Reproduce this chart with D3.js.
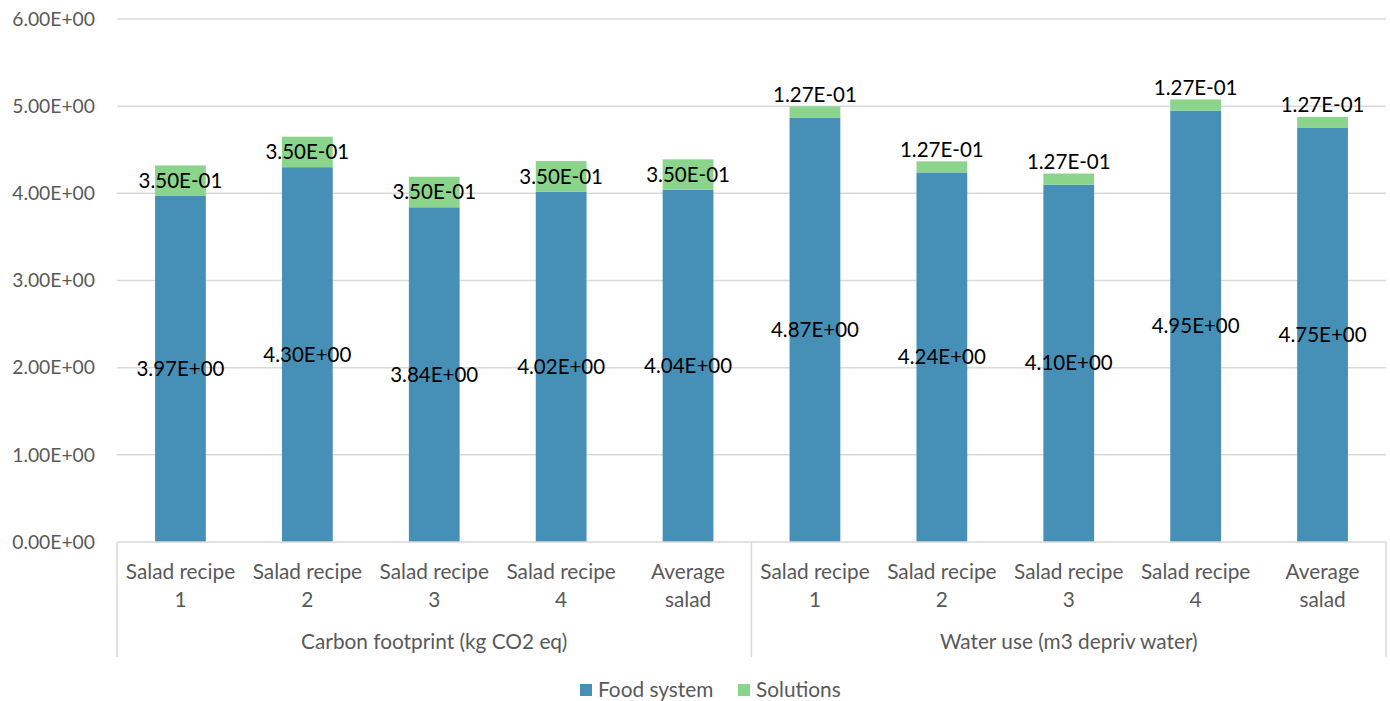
<!DOCTYPE html>
<html>
<head>
<meta charset="utf-8">
<script src="https://cdn.jsdelivr.net/npm/d3@7"></script>
<style>
body{margin:0;background:#fff;}
text{font-family:"Lato","Open Sans",sans-serif;}
</style>
</head>
<body>
<svg id="chart" width="1390" height="701"></svg>
<script>
const groups = ["Carbon footprint (kg CO2 eq)", "Water use (m3 depriv water)"];
const categories = ["Salad recipe\n1","Salad recipe\n2","Salad recipe\n3","Salad recipe\n4","Average\nsalad"];
const foodSystem = [3.97, 4.30, 3.84, 4.02, 4.04, 4.87, 4.24, 4.10, 4.95, 4.75];
const solutions = [0.35, 0.35, 0.35, 0.35, 0.35, 0.127, 0.127, 0.127, 0.127, 0.127];
const yTicks = [0,1,2,3,4,5,6];
const seriesNames = ["Food system","Solutions"];
const colors = ["#4690B8","#8BD48B"];

const svg = d3.select("#chart");
const pLeft = 117, pRight = 1386, pTop = 19, pBottom = 542;
const keys = d3.range(foodSystem.length);
const x = d3.scaleBand().domain(keys).range([pLeft,pRight]).paddingInner(0.6).paddingOuter(0.3);
const y = d3.scaleLinear().domain([0,6]).range([pBottom,pTop]);
const fmt = v => {
  const s = v.toExponential(2);
  const m = s.split("e");
  const exp = parseInt(m[1],10);
  const sign = exp < 0 ? "-" : "+";
  return m[0] + "E" + sign + String(Math.abs(exp)).padStart(2,"0");
};

// gridlines
svg.append("g").selectAll("line").data(yTicks.filter(d=>d>0)).join("line")
  .attr("x1",pLeft).attr("x2",pRight).attr("y1",d=>y(d)).attr("y2",d=>y(d))
  .attr("stroke","#d9d9d9").attr("stroke-width",1.5);
// y labels
svg.append("g").selectAll("text").data(yTicks).join("text")
  .attr("x",95).attr("y",d=>y(d)).attr("dy","0.35em").attr("text-anchor","end")
  .attr("fill","#595959").attr("font-size",19.3).text(d=>fmt(d));

// bars
const stack = keys.map(i=>({i, f:foodSystem[i], s:solutions[i]}));
const g = svg.append("g");
g.selectAll("rect.f").data(stack).join("rect").attr("class","f")
  .attr("x",d=>x(d.i)).attr("width",x.bandwidth())
  .attr("y",d=>y(d.f)).attr("height",d=>y(0)-y(d.f)).attr("fill",colors[0]);
g.selectAll("rect.s").data(stack).join("rect").attr("class","s")
  .attr("x",d=>x(d.i)).attr("width",x.bandwidth())
  .attr("y",d=>y(d.f+d.s)).attr("height",d=>y(d.f)-y(d.f+d.s)).attr("fill",colors[1]);
// labels
g.selectAll("text.f").data(stack).join("text").attr("class","f")
  .attr("x",d=>x(d.i)+x.bandwidth()/2).attr("y",d=>y(d.f/2)).attr("dy","0.35em")
  .attr("text-anchor","middle").attr("font-size",20.5).attr("fill","#000").text(d=>fmt(d.f));
g.selectAll("text.s").data(stack).join("text").attr("class","s")
  .attr("x",d=>x(d.i)+x.bandwidth()/2)
  .attr("y",d=> d.i<5 ? y(d.f+d.s/2) : y(d.f+d.s)-12).attr("dy","0.35em")
  .attr("text-anchor","middle").attr("font-size",20.5).attr("fill","#000").text(d=>fmt(d.s));

// axis lines
const ax = svg.append("g").attr("stroke","#d9d9d9").attr("stroke-width",1.5);
ax.append("line").attr("x1",pLeft).attr("x2",pRight).attr("y1",pBottom).attr("y2",pBottom);
const mid = (pLeft+pRight)/2;
[pLeft, mid, pRight].forEach(xx=>ax.append("line").attr("x1",xx).attr("x2",xx).attr("y1",pBottom).attr("y2",657));

// category labels
keys.forEach(i=>{
  const lines = categories[i%5].split("\n");
  const t = svg.append("text").attr("x",x(i)+x.bandwidth()/2).attr("y",579)
    .attr("text-anchor","middle").attr("fill","#595959").attr("font-size",20.8);
  lines.forEach((l,j)=>t.append("tspan").attr("x",x(i)+x.bandwidth()/2).attr("dy",j?28:0).text(l));
});
groups.forEach((gname,j)=>{
  svg.append("text").attr("x",pLeft+(j+0.5)*(pRight-pLeft)/2).attr("y",649)
    .attr("text-anchor","middle").attr("fill","#595959").attr("font-size",20.8).text(gname);
});

// legend
const leg = svg.append("g");
const legX = [580, 738];
seriesNames.forEach((n,j)=>{
  leg.append("rect").attr("x",legX[j]).attr("y",684).attr("width",12).attr("height",12).attr("fill",colors[j]);
  leg.append("text").attr("x",legX[j]+18).attr("y",690).attr("dy","0.35em").attr("fill","#595959")
    .attr("font-size",20.8).text(n);
});
</script>
</body>
</html>
